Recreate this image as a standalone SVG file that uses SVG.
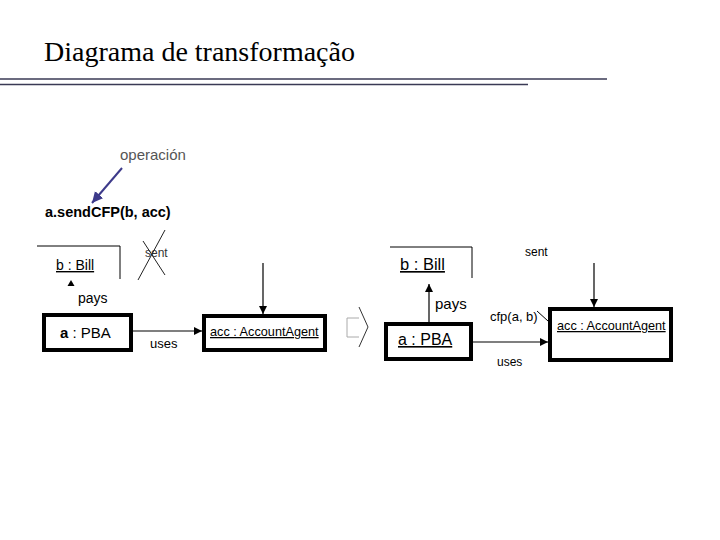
<svg xmlns="http://www.w3.org/2000/svg" width="720" height="540" viewBox="0 0 720 540">
<defs>
<style>
text{font-family:"Liberation Sans",Arial,sans-serif;fill:#000}
.title{font-family:"Liberation Serif","Times New Roman",serif;font-size:28px}
.box{fill:#fff;stroke:#000;stroke-width:4}
.open{fill:none;stroke:#000;stroke-width:1}
.edge{fill:none;stroke:#000;stroke-width:1.2}
.u{text-decoration:underline}
</style>
<marker id="ah" markerUnits="userSpaceOnUse" markerWidth="10" markerHeight="10" refX="8" refY="4" orient="auto">
<path d="M0,0 L8,4 L0,8 Z" fill="#000"/>
</marker>
<marker id="ahb" markerUnits="userSpaceOnUse" markerWidth="14" markerHeight="14" refX="11" refY="5.5" orient="auto">
<path d="M0,0 L11,5.5 L0,11 Z" fill="#3d3a8a"/>
</marker>
</defs>
<rect width="720" height="540" fill="#fff"/>
<g id="header">
<text class="title" x="44" y="61">Diagrama de transformação</text>
<line x1="0" y1="79" x2="607" y2="79" stroke="#3a3a55" stroke-width="1.5"/>
<line x1="0" y1="84.5" x2="528" y2="84.5" stroke="#3a3a55" stroke-width="1.5"/>
</g>
<g id="note">
<text x="120" y="160" font-size="15" style="fill:#555">operación</text>
<text x="45" y="217" font-size="14.5" font-weight="bold">a.sendCFP(b, acc)</text>
</g>
<g id="left-bill">
<path class="open" d="M37,246 H120 V279"/>
<text class="u" x="56" y="270" font-size="14">b : Bill</text>
</g>
<g id="left-pba">
<rect class="box" x="44" y="315" width="87" height="35"/>
<text x="60" y="338" font-size="15"><tspan font-weight="bold">a</tspan> : PBA</text>
</g>
<g id="left-acc">
<rect class="box" x="204" y="316" width="121" height="34"/>
<text class="u" x="210" y="336" font-size="12.7">acc : AccountAgent</text>
</g>
<g id="right-bill">
<path class="open" d="M390,247 H472 V278"/>
<text class="u" x="400" y="270" font-size="16.5">b : Bill</text>
</g>
<g id="right-pba">
<rect class="box" x="386" y="324" width="85" height="35"/>
<text class="u" x="398" y="345" font-size="16">a : PBA</text>
</g>
<g id="right-acc">
<rect class="box" x="550" y="309" width="121" height="51"/>
<text class="u" x="557" y="330" font-size="12.7">acc : AccountAgent</text>
</g>
<g id="transform-arrow">
<polyline points="359,318 347,318 347,337 359,337" fill="none" stroke="#aaa" stroke-width="1"/>
<polyline points="359,307 368,327 359,347" fill="none" stroke="#333" stroke-width="1"/>
</g>
<g id="connectors">
<line x1="122" y1="168" x2="92" y2="203" stroke="#3d3a8a" stroke-width="2" marker-end="url(#ahb)"/>
<polygon points="71,280 67.5,286 74.5,286" fill="#000"/>
<text x="78" y="303" font-size="14">pays</text>
<line class="edge" x1="133" y1="331" x2="202" y2="331" marker-end="url(#ah)"/>
<text x="150" y="348" font-size="13">uses</text>
<line class="edge" x1="263" y1="263" x2="263" y2="314" marker-end="url(#ah)"/>
<text x="145" y="257" font-size="12" style="fill:#333">sent</text>
<line x1="165" y1="230" x2="138" y2="280" stroke="#222" stroke-width="1"/>
<line x1="143" y1="241" x2="165" y2="275" stroke="#222" stroke-width="1"/>
<line class="edge" x1="429" y1="322" x2="429" y2="284" marker-end="url(#ah)"/>
<text x="435" y="309" font-size="15">pays</text>
<line class="edge" x1="473" y1="342" x2="548" y2="342" marker-end="url(#ah)"/>
<text x="497" y="366" font-size="12">uses</text>
<line class="edge" x1="594" y1="263" x2="594" y2="307" marker-end="url(#ah)"/>
<text x="525" y="256" font-size="12">sent</text>
<text x="490" y="321" font-size="13">cfp(a, b)</text>
<line x1="537" y1="311" x2="548" y2="321" stroke="#000" stroke-width="1"/>
</g>
</svg>
